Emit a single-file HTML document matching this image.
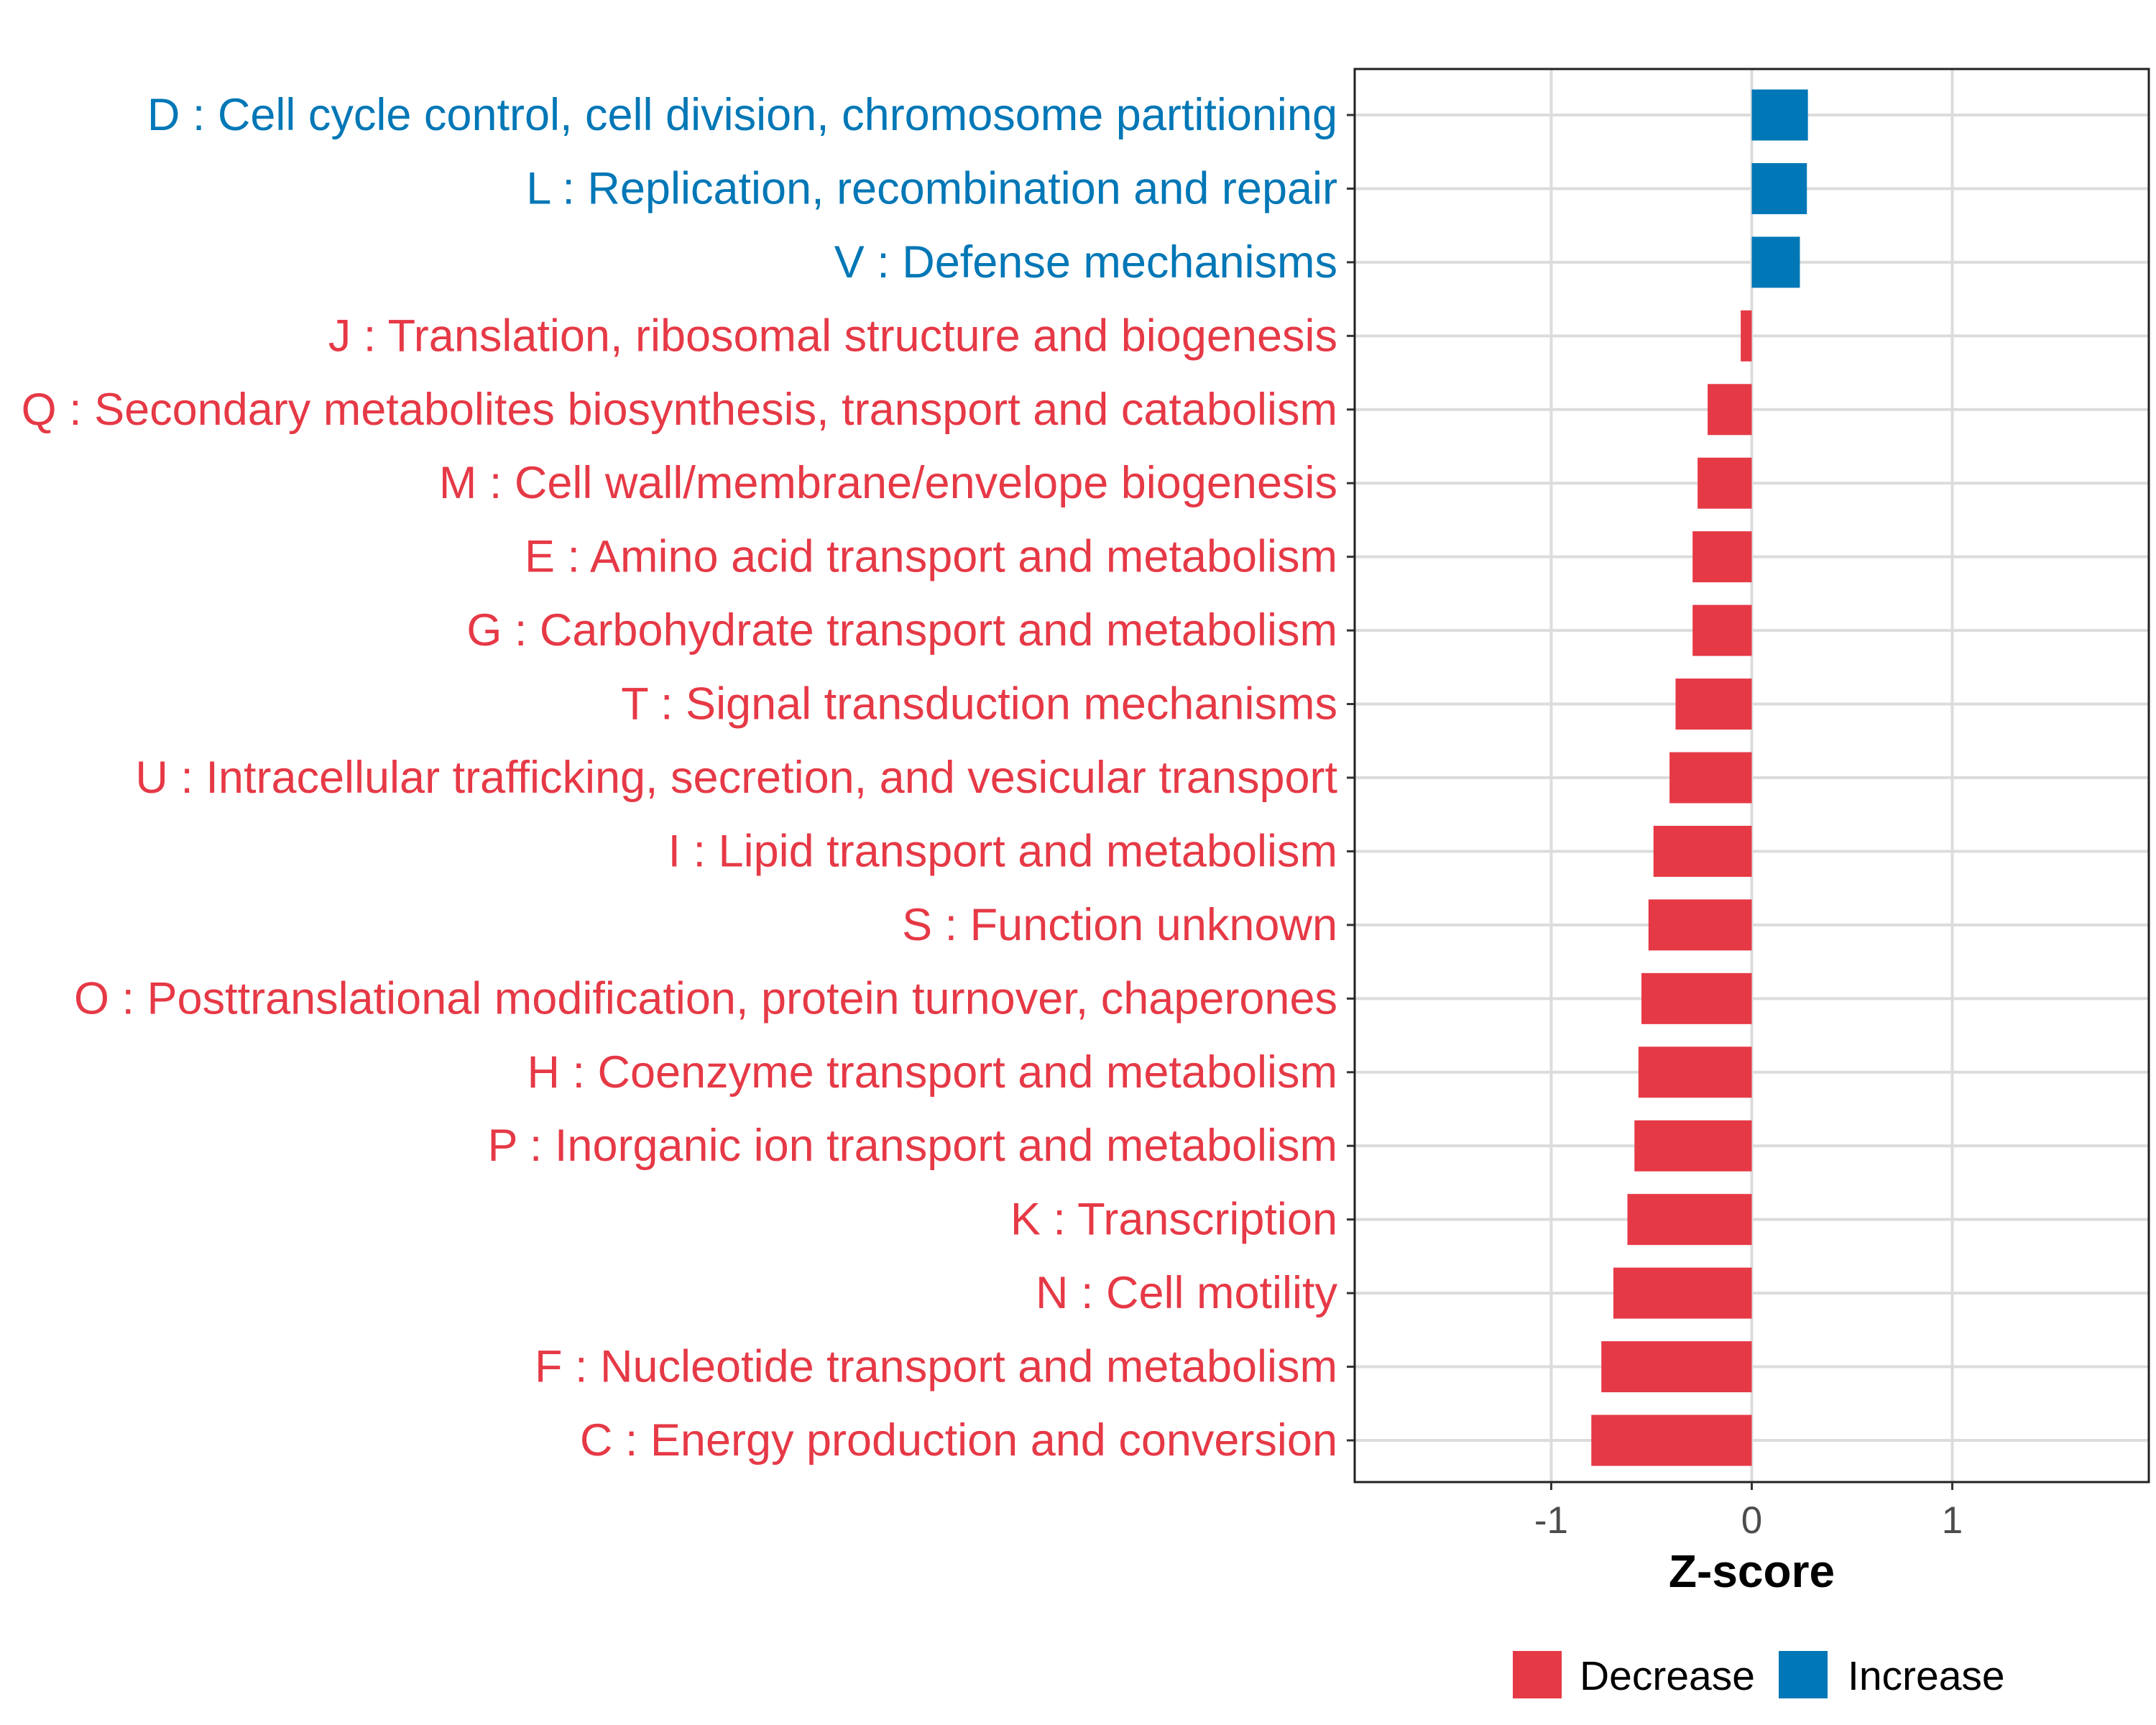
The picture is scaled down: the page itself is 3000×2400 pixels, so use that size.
<!DOCTYPE html>
<html><head><meta charset="utf-8">
<style>
html,body{margin:0;padding:0;background:#fff;}
svg{display:block;}
text{font-family:"Liberation Sans",Arial,sans-serif;}
</style></head>
<body>
<svg id="chart" width="3000" height="2400" xmlns="http://www.w3.org/2000/svg"></svg>
<script>
const categories = [
"D : Cell cycle control, cell division, chromosome partitioning",
"L : Replication, recombination and repair",
"V : Defense mechanisms",
"J : Translation, ribosomal structure and biogenesis",
"Q : Secondary metabolites biosynthesis, transport and catabolism",
"M : Cell wall/membrane/envelope biogenesis",
"E : Amino acid transport and metabolism",
"G : Carbohydrate transport and metabolism",
"T : Signal transduction mechanisms",
"U : Intracellular trafficking, secretion, and vesicular transport",
"I : Lipid transport and metabolism",
"S : Function unknown",
"O : Posttranslational modification, protein turnover, chaperones",
"H : Coenzyme transport and metabolism",
"P : Inorganic ion transport and metabolism",
"K : Transcription",
"N : Cell motility",
"F : Nucleotide transport and metabolism",
"C : Energy production and conversion"];
const zscores = [0.28,0.275,0.24,-0.055,-0.22,-0.27,-0.295,-0.295,-0.38,-0.41,-0.49,-0.515,-0.55,-0.565,-0.585,-0.62,-0.69,-0.75,-0.80];
const xTicks = [-1,0,1];
const xTickLabels = ["-1","0","1"];
const legendLabels = ["Decrease","Increase"];

const RED="#E63946", BLUE="#0077B6";
const svg=document.getElementById('chart');
const NS="http://www.w3.org/2000/svg";
const P={l:1885,r:2990,t:96,b:2062};
const xMin=-1.98,xMax=1.98;
const xs=v=>P.l+(v-xMin)/(xMax-xMin)*(P.r-P.l);
const y0=160,step=(2004-160)/(categories.length-1);
const ys=i=>y0+i*step;
function el(tag,attrs,parent){const e=document.createElementNS(NS,tag);for(const k in attrs)e.setAttribute(k,attrs[k]);(parent||svg).appendChild(e);return e;}

xTicks.forEach((t,i)=>{
  const g=el('line',{x1:xs(t),x2:xs(t),y1:P.t,y2:P.b,stroke:'#dcdcdc','stroke-width':4});
  
  
});
categories.forEach((c,i)=>{
  const g=el('line',{x1:P.l,x2:P.r,y1:ys(i),y2:ys(i),stroke:'#dcdcdc','stroke-width':4});
  
  
});
const bh=71;
zscores.forEach((v,i)=>{
  const x=Math.min(xs(0),xs(v)),w=Math.abs(xs(v)-xs(0));
  const r=el('rect',{x:x,y:ys(i)-bh/2,width:w,height:bh,fill:v>=0?BLUE:RED});
  
  
  const tk=el('line',{x1:P.l-11,x2:P.l,y1:ys(i),y2:ys(i),stroke:'#333','stroke-width':3});
  
  
  const t=el('text',{x:1861,y:ys(i)+21,'text-anchor':'end','font-size':63,fill:v>=0?BLUE:RED});
  t.textContent=categories[i];
  
  
});
const pb=el('rect',{x:P.l,y:P.t,width:P.r-P.l,height:P.b-P.t,fill:'none',stroke:'#222','stroke-width':3});


xTicks.forEach((t,i)=>{
  const tk=el('line',{x1:xs(t),x2:xs(t),y1:P.b,y2:P.b+11,stroke:'#333','stroke-width':3});
  
  
  const lb=el('text',{x:xs(t),y:2133,'text-anchor':'middle','font-size':53,fill:'#4d4d4d'});
  lb.textContent=xTickLabels[i];
  
  
});
const at=el('text',{x:xs(0),y:2208,'text-anchor':'middle','font-size':64,'font-weight':'bold',fill:'#000'});
at.textContent="Z-score";


const lg=[{x:2105,tx:2198,c:RED},{x:2475,tx:2571,c:BLUE}];
lg.forEach((L,i)=>{
  const s=el('rect',{x:L.x,y:2297,width:68,height:66,fill:L.c});
  
  
  const t=el('text',{x:L.tx,y:2351,'font-size':57,fill:'#000'});
  t.textContent=legendLabels[i];
  
  
});
</script>
</body></html>
